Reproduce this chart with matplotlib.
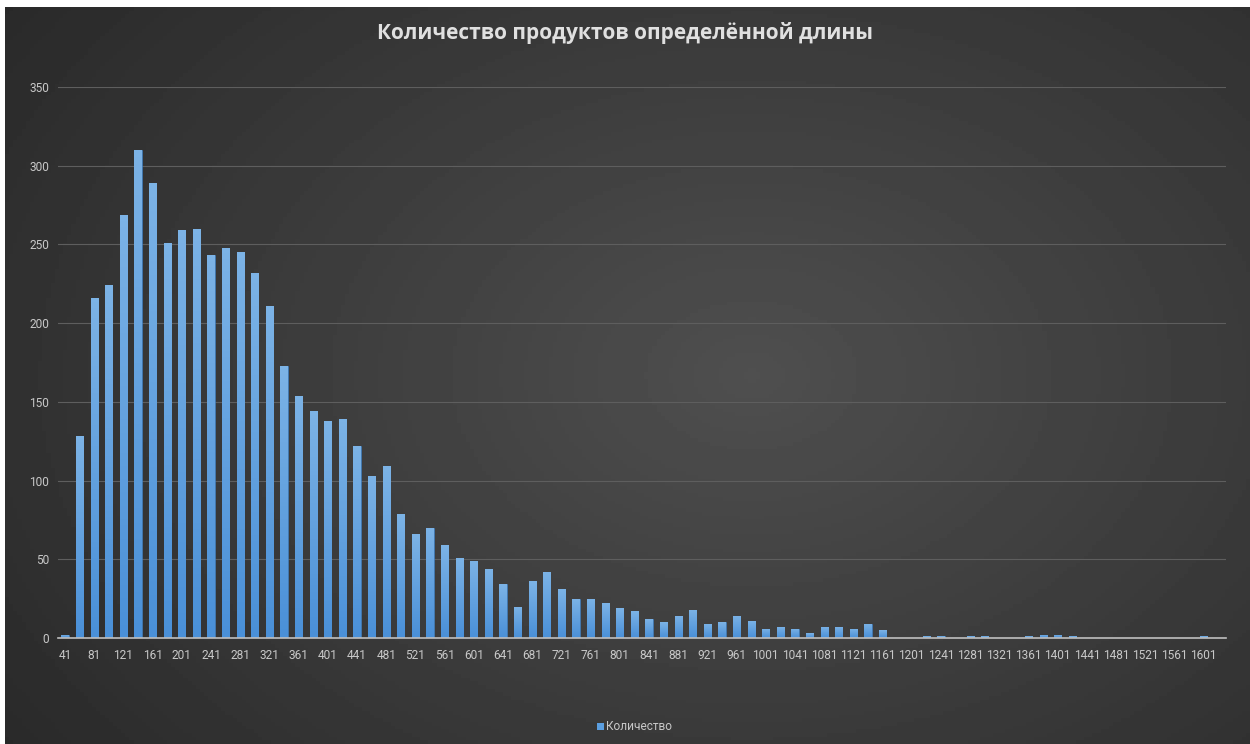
"""Histogram of product lengths (dark Excel-style column chart)."""

import matplotlib.pyplot as plt
import numpy as np
from matplotlib.colors import LinearSegmentedColormap
from matplotlib.patches import Rectangle

# category start values (bin edges step 20) and counts
lengths = list(range(41, 1622, 20))
counts = [
    2, 128, 216, 224, 269, 310, 289, 251, 259, 260,
    243, 248, 245, 232, 211, 173, 154, 144, 138, 139,
    122, 103, 109, 79, 66, 70, 59, 51, 49, 44,
    34, 20, 36, 42, 31, 25, 25, 22, 19, 17,
    12, 10, 14, 18, 9, 10, 14, 11, 6, 7,
    6, 3, 7, 7, 6, 9, 5, 0, 0, 1,
    1, 0, 1, 1, 0, 0, 1, 2, 2, 1,
    0, 0, 0, 0, 0, 0, 0, 0, 1, 0,
]
title = "Количество продуктов определённой длины"
series_name = "Количество"

plt.rcParams["font.family"] = ["Roboto", "DejaVu Sans"]

W, H = 1250, 744
fig = plt.figure(figsize=(W / 100, H / 100), dpi=100, facecolor="white")

# dark radial background of the chart area
bg = fig.add_axes([5 / W, 0, 1 - 5 / W, 1 - 7 / H])
yy, xx = np.mgrid[0:1:200j, 0:1:300j]
r = np.sqrt(((xx - 0.6) / 0.8) ** 2 + ((yy - 0.5) / 0.95) ** 2)
shade = 0.31 - 0.16 * np.clip(r, 0, 1)
bg.imshow(shade, cmap="gray", vmin=0, vmax=1, aspect="auto", extent=[0, 1, 0, 1])
bg.set_axis_off()

ax = fig.add_axes([57.7 / W, 1 - 638 / H, (1225.7 - 57.7) / W, (638 - 87) / H])
ax.set_facecolor("none")

x = np.arange(len(lengths))
bars = ax.bar(x, counts, width=0.5, color="#5b9fe0", edgecolor="#3d7fc4",
              linewidth=0.4, zorder=3)

# light-to-dark vertical gradient on each bar
grad = np.linspace(0.0, 1.0, 64).reshape(-1, 1)
bar_cmap = LinearSegmentedColormap.from_list("bar", ["#4a90d8", "#7cb3e6"])
for b in bars:
    if b.get_height() <= 0:
        continue
    bx, by = b.get_x(), b.get_y()
    im = ax.imshow(grad, cmap=bar_cmap, aspect="auto", origin="lower",
                   extent=[bx, bx + b.get_width(), by, by + b.get_height()],
                   zorder=4)
    im.set_clip_path(b)

ax.set_xlim(-0.5, len(lengths) - 0.5)
ax.set_ylim(0, 350)
ax.set_yticks(range(0, 351, 50))
ax.set_xticks(x[::2])
ax.set_xticklabels([str(v) for v in lengths[::2]])
ax.grid(axis="y", color="#5e5e5e", linewidth=0.8, zorder=1)
for s in ["top", "right", "left"]:
    ax.spines[s].set_visible(False)
ax.spines["bottom"].set_color("#bfbfbf")
ax.spines["bottom"].set_linewidth(1.2)
ax.spines["bottom"].set_zorder(5)
ax.tick_params(length=0, colors="#c8c8c8", labelsize=8.6)
ax.tick_params(axis="y", pad=6)
ax.tick_params(axis="x", pad=8)

fig.text(0.5, 1 - 33 / H, title, ha="center", va="center", color="#e0e0e0",
         fontsize=15, fontweight="bold", family="Open Sans")

# legend entry
fig.patches.append(Rectangle((597 / W, 1 - 730 / H), 7 / W, 7 / H,
                             transform=fig.transFigure, facecolor="#5b9fe0",
                             edgecolor="none"))
fig.text(606 / W, 1 - 726 / H, series_name, ha="left", va="center",
         color="#c8c8c8", fontsize=8.6)

fig.savefig("out.png", dpi=100, facecolor=fig.get_facecolor())
